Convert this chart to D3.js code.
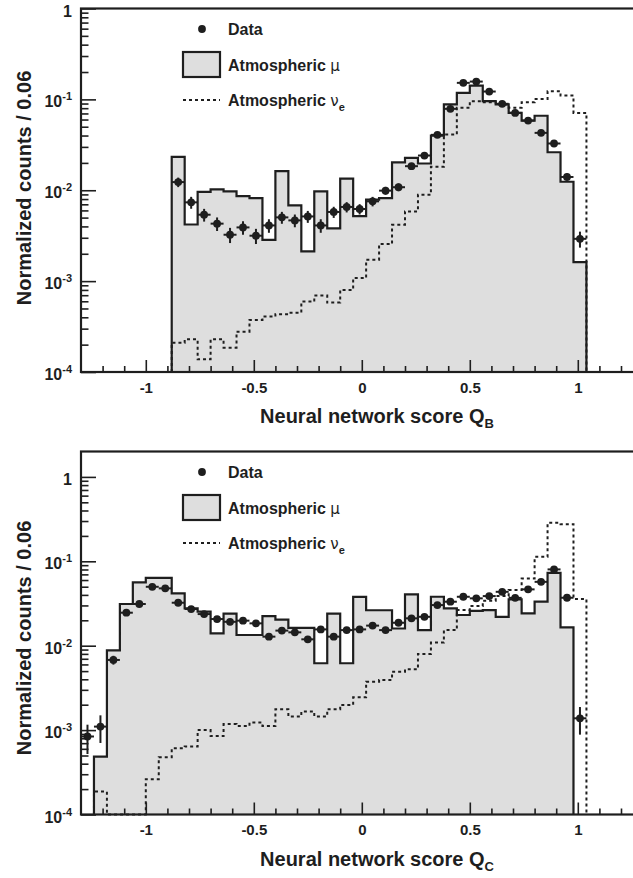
<!DOCTYPE html>
<html lang="en">
<head>
<meta charset="UTF-8">
<title>Neural network score Q_B / Q_C</title>
<script src="https://d3js.org/d3.v7.min.js"></script>
<style>
  body { margin: 0; background: #fff; }
  svg { display: block; font-family: "Liberation Sans", Arial, Helvetica, sans-serif; font-weight: bold; }
</style>
</head>
<body>
<div id="chart"></div>
<script>
// every histogram bin is 0.06 wide
const binWidth = 0.06;

// ---- panel Q_B ----
const qbStart = -0.88;  // first bin edge (all three series)
const qbData = [0.0123, 0.00736, 0.00538, 0.00429, 0.00324, 0.0039, 0.00316, 0.0041, 0.00503, 0.00466,
  0.00515, 0.0041, 0.00577, 0.00655, 0.00622, 0.00755, 0.0099, 0.0108, 0.0184, 0.0241,
  0.0407, 0.0787, 0.152, 0.157, 0.122, 0.0894, 0.071, 0.0585, 0.0428, 0.0327, 0.014, 0.00292];
const qbDataErr = [0.12, 0.15, 0.16, 0.17, 0.19, 0.17, 0.19, 0.17, 0.15, 0.16,
  0.15, 0.17, 0.14, 0.13, 0.13, 0.12, 0.1, 0.1, 0.08, 0.07,
  0.05, 0.04, 0.03, 0.03, 0.03, 0.04, 0.04, 0.05, 0.05, 0.06, 0.09, 0.2];
const qbMuon = [0.0233, 0.0042, 0.0096, 0.0102, 0.0097, 0.0086, 0.0082, 0.00285, 0.0162, 0.0068,
  0.00212, 0.0097, 0.0038, 0.0134, 0.0052, 0.0079, 0.0082, 0.0203, 0.0227, 0.0197,
  0.040, 0.088, 0.118, 0.142, 0.0955, 0.088, 0.071, 0.0585, 0.066, 0.0262, 0.0124, 0.00162];
const qbNue = [2.1e-4, 2.29e-4, 1.38e-4, 2.29e-4, 1.85e-4, 2.78e-4, 3.74e-4, 4.07e-4, 4.33e-4, 4.5e-4,
  5.96e-4, 6.95e-4, 5.8e-4, 8.0e-4, 1.08e-3, 1.72e-3, 2.56e-3, 4.18e-3, 5.85e-3, 8.9e-3,
  0.0181, 0.041, 0.0807, 0.0955, 0.093, 0.088, 0.081, 0.093, 0.101, 0.123, 0.110, 0.071];

// ---- panel Q_C ----
const qcDataStart = -1.30;
const qcData = [8.4e-4, 1.1e-3, 6.78e-3, 0.0246, 0.0312, 0.0499, 0.0478, 0.0323, 0.0272, 0.0237,
  0.0207, 0.0192, 0.0198, 0.0184, 0.0128, 0.0151, 0.0144, 0.0119, 0.0156, 0.0128,
  0.0153, 0.0156, 0.0173, 0.0153, 0.0187, 0.0211, 0.022, 0.0303, 0.0332, 0.038,
  0.0364, 0.0387, 0.0435, 0.0369, 0.0465, 0.0571, 0.0802, 0.037, 1.38e-3];
const qcDataErr = [0.38, 0.36, 0.12, 0.06, 0.05, 0.04, 0.04, 0.05, 0.05, 0.06,
  0.06, 0.06, 0.06, 0.06, 0.07, 0.06, 0.07, 0.07, 0.06, 0.07,
  0.06, 0.06, 0.06, 0.06, 0.06, 0.05, 0.05, 0.05, 0.04, 0.04,
  0.04, 0.04, 0.04, 0.04, 0.04, 0.03, 0.03, 0.04, 0.36];
const qcStart = -1.24;
const qcMuon = [4.85e-4, 8.8e-3, 0.0312, 0.0562, 0.0638, 0.0638, 0.0417, 0.0277, 0.0253, 0.014,
  0.024, 0.0134, 0.0134, 0.0224, 0.0204, 0.0163, 0.0163, 0.0062, 0.024, 0.0062,
  0.0378, 0.0263, 0.0263, 0.016, 0.0406, 0.0153, 0.038, 0.0277, 0.0231, 0.0259,
  0.0264, 0.022, 0.0354, 0.0242, 0.0332, 0.0731, 0.0165];
const qcNue = [1.87e-4, 1e-4, 1e-4, 1e-4, 2.62e-4, 4.78e-4, 6.1e-4, 6.38e-4, 1.0e-3, 8.5e-4,
  1.18e-3, 1.12e-3, 1.23e-3, 1.12e-3, 1.77e-3, 1.45e-3, 1.66e-3, 1.45e-3, 1.77e-3, 1.99e-3,
  2.45e-3, 3.75e-3, 3.93e-3, 4.92e-3, 5.25e-3, 7.98e-3, 0.0109, 0.0153, 0.0264, 0.0295,
  0.0341, 0.0387, 0.0456, 0.0627, 0.113, 0.286, 0.275, 0.0357];

// axes
const xDomain = [-1.3, 1.3];
const xTicks = [-1, -0.5, 0, 0.5, 1];
const xMinorTicks = d3.range(-12, 13).filter(i => i % 5 !== 0).map(i => i / 10);
const yTitle = 'Normalized counts / 0.06';

const W = 633, H = 878;
const svg = d3.select('#chart').append('svg').attr('width', W).attr('height', H);
svg.append('rect').attr('width', W).attr('height', H).attr('fill', '#fff');

const x = d3.scaleLinear().domain(xDomain).range([81, 642.6]);
const ink = '#1e1e1e';
const fillGrey = '#dedede';

function histPoints(start, vals) {
  // step outline: up from the floor at the first edge, down to the floor at the last edge
  const pts = [[start, null]];
  vals.forEach((v, i) => pts.push([start + i * binWidth, v]));
  pts.push([start + vals.length * binWidth, vals[vals.length - 1]]);
  pts.push([start + vals.length * binWidth, null]);
  return pts;
}

function drawPanel(p) {
  const y = d3.scaleLog().domain([1e-4, p.yMax]).range([p.bottom, p.top]).clamp(true);
  const g = svg.append('g');
  const yv = v => v === null ? p.bottom : y(v);

  // muon histogram: grey fill + outline
  const muPts = histPoints(p.muStart, p.muon);
  g.append('path')
    .attr('d', d3.area().curve(d3.curveStepAfter).x(d => x(d[0])).y0(p.bottom).y1(d => yv(d[1]))(muPts))
    .attr('fill', fillGrey);
  g.append('path')
    .attr('d', d3.line().curve(d3.curveStepAfter).x(d => x(d[0])).y(d => yv(d[1]))(muPts))
    .attr('fill', 'none').attr('stroke', ink).attr('stroke-width', 2.2);

  // nu_e histogram: dotted outline
  g.append('path')
    .attr('d', d3.line().curve(d3.curveStepAfter).x(d => x(d[0])).y(d => yv(d[1]))(histPoints(p.nueStart, p.nue)))
    .attr('fill', 'none').attr('stroke', ink).attr('stroke-width', 2)
    .attr('stroke-dasharray', '3,3');

  // data points with error bars
  const pts = p.data.map((v, i) => ({ c: p.dataStart + (i + 0.5) * binWidth, v, e: p.err[i] }));
  const dg = g.append('g').attr('stroke', ink).attr('stroke-width', 2);
  dg.selectAll('line.ex').data(pts).join('line').attr('class', 'ex')
    .attr('x1', d => x(d.c - binWidth / 2)).attr('x2', d => x(d.c + binWidth / 2))
    .attr('y1', d => y(d.v)).attr('y2', d => y(d.v));
  dg.selectAll('line.ey').data(pts).join('line').attr('class', 'ey')
    .attr('x1', d => x(d.c)).attr('x2', d => x(d.c))
    .attr('y1', d => y(d.v * (1 - d.e))).attr('y2', d => y(d.v * (1 + d.e)));
  g.selectAll('circle.pt').data(pts).join('circle').attr('class', 'pt')
    .attr('cx', d => x(d.c)).attr('cy', d => y(d.v)).attr('r', 3.9).attr('fill', ink);

  // axes (ticks point into the frame, ROOT style)
  const ax = g.append('g').attr('transform', `translate(0,${p.bottom})`);
  ax.append('g').call(d3.axisBottom(x).tickValues(xMinorTicks).tickSize(-6).tickFormat(''));
  ax.append('g').call(d3.axisBottom(x).tickValues(xTicks).tickSize(-12).tickPadding(10).tickFormat(d => String(d)));
  ax.selectAll('.domain').remove();
  ax.selectAll('.tick line').attr('stroke', ink).attr('stroke-width', 1.6);
  ax.selectAll('.tick text').attr('fill', ink).style('font-size', '15px').style('font-weight', 'bold')
    .style('font-family', '"Liberation Sans", Arial, sans-serif');

  const decades = d3.range(-4, Math.floor(Math.log10(p.yMax)) + 1).map(e => Math.pow(10, e));
  const minors = [];
  decades.forEach(d => d3.range(2, 10).forEach(m => { if (d * m < p.yMax) minors.push(d * m); }));
  const ay = g.append('g').attr('transform', 'translate(81,0)');
  ay.append('g').call(d3.axisLeft(y).tickValues(minors).tickSize(-7.5).tickFormat(''));
  ay.append('g').call(d3.axisLeft(y).tickValues(decades).tickSize(-15).tickFormat(''));
  ay.selectAll('.domain').remove();
  ay.selectAll('.tick line').attr('stroke', ink).attr('stroke-width', 1.6);

  const yl = g.selectAll('text.ylab').data(decades).join('text').attr('class', 'ylab')
    .attr('x', 72).attr('y', d => y(d) + 8).attr('text-anchor', 'end')
    .attr('fill', ink).style('font-size', '16px');
  yl.each(function (d) {
    const t = d3.select(this);
    const e = Math.round(Math.log10(d));
    if (e === 0) { t.text('1'); return; }
    t.append('tspan').text('10');
    t.append('tspan').attr('dy', -7).style('font-size', '11px').text(String(e));
  });

  // frame (right side falls outside the picture)
  g.append('rect').attr('x', 81).attr('y', p.top).attr('width', 642.6 - 81).attr('height', p.bottom - p.top)
    .attr('fill', 'none').attr('stroke', ink).attr('stroke-width', 2.2);

  // axis titles
  g.append('text').attr('transform', 'rotate(-90)')
    .attr('x', -p.yTitleMid).attr('y', 31).attr('text-anchor', 'middle')
    .attr('fill', ink).style('font-size', '20px').text(yTitle);
  const xt = g.append('text').attr('x', 494).attr('y', p.bottom + 51).attr('text-anchor', 'end')
    .attr('fill', ink).style('font-size', '20px');
  xt.append('tspan').text('Neural network score Q');
  xt.append('tspan').attr('dy', 5).style('font-size', '13px').text(p.sub);

  // legend
  const lg = g.append('g').attr('transform', `translate(0,${p.top})`).attr('fill', ink);
  lg.append('circle').attr('cx', 202).attr('cy', 20.5).attr('r', 3.9);
  lg.append('text').attr('x', 228).attr('y', 26.5).style('font-size', '16px').text('Data');
  lg.append('rect').attr('x', 183).attr('y', 43.5).attr('width', 37).attr('height', 25)
    .attr('fill', fillGrey).attr('stroke', ink).attr('stroke-width', 2.2);
  const t2 = lg.append('text').attr('x', 228).attr('y', 62).style('font-size', '16px');
  t2.append('tspan').text('Atmospheric ');
  t2.append('tspan').style('font-weight', 'normal').style('font-family', '"DejaVu Sans", sans-serif')
    .style('font-size', '15px').text('\u03bc');
  lg.append('line').attr('x1', 183).attr('x2', 220).attr('y1', 91.5).attr('y2', 91.5)
    .attr('stroke', ink).attr('stroke-width', 2).attr('stroke-dasharray', '3,3');
  const t3 = lg.append('text').attr('x', 228).attr('y', 97).style('font-size', '16px');
  t3.append('tspan').text('Atmospheric ');
  t3.append('tspan').style('font-weight', 'normal').style('font-family', '"DejaVu Sans", sans-serif')
    .style('font-size', '15px').text('\u03bd');
  t3.append('tspan').attr('dy', 5).style('font-size', '11px').text('e');
}

drawPanel({
  top: 8.5, bottom: 372, yMax: 1, yTitleMid: 188, sub: 'B',
  muStart: qbStart, muon: qbMuon, nueStart: qbStart, nue: qbNue,
  dataStart: qbStart, data: qbData, err: qbDataErr
});
drawPanel({
  top: 451.5, bottom: 814.5, yMax: 2, yTitleMid: 638, sub: 'C',
  muStart: qcStart, muon: qcMuon, nueStart: qcStart, nue: qcNue,
  dataStart: qcDataStart, data: qcData, err: qcDataErr
});
</script>
</body>
</html>
